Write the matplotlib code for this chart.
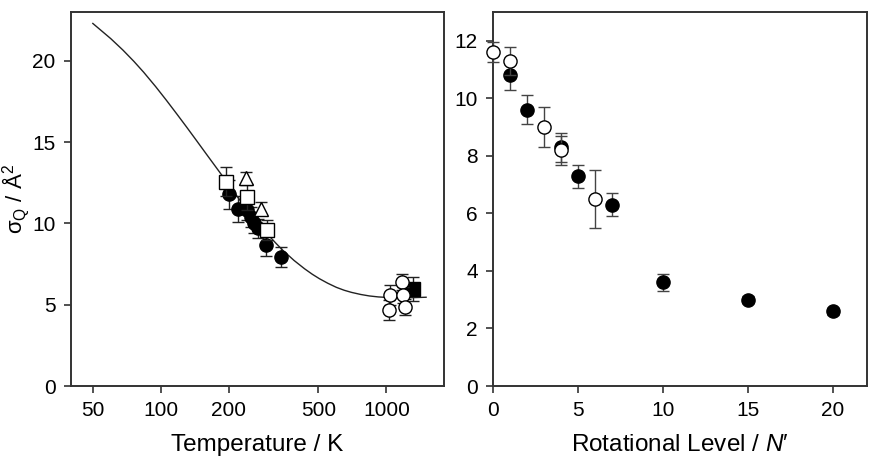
import matplotlib
matplotlib.use('Agg')
from matplotlib import pyplot as plt
from matplotlib.ticker import FixedLocator, NullLocator, FixedFormatter

plt.rcParams['font.family'] = ['Liberation Sans', 'DejaVu Sans']
plt.rcParams['mathtext.fontset'] = 'custom'
plt.rcParams['mathtext.rm'] = 'Liberation Sans'
plt.rcParams['mathtext.it'] = 'Liberation Sans:italic'

# left panel: fitted curve
fit_T = [50, 60, 68, 76, 84, 95, 106, 118, 130, 144, 159, 174, 189, 205, 220, 235,
         250, 275, 300, 325, 348, 390, 434, 470, 505, 550, 600, 650, 700, 770, 840,
         920, 1000, 1100, 1200, 1350, 1500]
fit_sigma = [22.3, 21.37, 20.66, 19.97, 19.30, 18.41, 17.57, 16.72, 15.94, 15.10,
             14.28, 13.54, 12.86, 12.17, 11.59, 11.06, 10.58, 9.88, 9.28, 8.76, 8.34,
             7.72, 7.21, 6.87, 6.60, 6.32, 6.07, 5.89, 5.76, 5.63, 5.54, 5.48, 5.45,
             5.43, 5.43, 5.44, 5.46]

# left panel: measurements
fc_T = [200, 220, 240, 252, 260, 270, 293, 342]
fc_sig = [11.8, 10.87, 10.83, 10.4, 10.0, 9.7, 8.68, 7.95]
fc_err = [0.9, 0.8, 0.6, 0.6, 0.6, 0.6, 0.7, 0.6]

sq_T = [195, 240, 296]
sq_sig = [12.57, 11.65, 9.6]
sq_err = [0.9, 0.8, 0.6]

tri_T = [238, 277]
tri_sig = [12.78, 10.9]
tri_err = [0.4, 0.4]

oc_T = [1031, 1041, 1169, 1181, 1213]
oc_sig = [4.68, 5.6, 6.42, 5.6, 4.88]
oc_err = [0.6, 0.6, 0.5, 0.5, 0.5]

fs_T = [1307]
fs_sig = [5.95]
fs_err = [0.75]

# right panel: rotational levels
rot_filled_N = [1, 2, 4, 5, 7, 10, 15, 20]
rot_filled_sig = [10.8, 9.6, 8.3, 7.3, 6.3, 3.6, 3.0, 2.6]
rot_filled_err = [0.5, 0.5, 0.5, 0.4, 0.4, 0.3, 0.12, 0.12]

rot_open_N = [0, 1, 3, 4, 6]
rot_open_sig = [11.6, 11.3, 9.0, 8.2, 6.5]
rot_open_err = [0.35, 0.5, 0.7, 0.5, 1.0]

T_ticks = [50, 100, 200, 500, 1000]

fig = plt.figure(figsize=(8.96, 4.68), dpi=100)
ax1 = fig.add_axes([0.0792, 0.1752, 0.4163, 0.799])
ax2 = fig.add_axes([0.5502, 0.1752, 0.4174, 0.799])

spine_col = '#333333'
ms = 9.5


def style(ax):
    for s in ax.spines.values():
        s.set_color(spine_col)
        s.set_linewidth(1.4)
    ax.tick_params(direction='out', length=5, width=1.2, color=spine_col,
                   labelsize=15, pad=6, top=False, right=False)


ax1.plot(fit_T, fit_sigma, color='#222222', lw=1.0, zorder=2)
ax1.errorbar(fc_T, fc_sig, yerr=fc_err, fmt='o', ms=ms, mfc='black', mec='black',
             ecolor='#222222', elinewidth=1, capsize=4, zorder=3)
ax1.errorbar(sq_T, sq_sig, yerr=sq_err, fmt='s', ms=ms, mfc='white', mec='black',
             mew=1, ecolor='#222222', elinewidth=1, capsize=4, zorder=4)
ax1.errorbar(tri_T, tri_sig, yerr=tri_err, fmt='^', ms=ms, mfc='white', mec='black',
             mew=1, ecolor='#222222', elinewidth=1, capsize=4, zorder=4)
ax1.errorbar(oc_T, oc_sig, yerr=oc_err, fmt='o', ms=ms, mfc='white', mec='black',
             mew=1, ecolor='#222222', elinewidth=1, capsize=4, zorder=4)
ax1.errorbar(fs_T, fs_sig, yerr=fs_err, fmt='s', ms=ms, mfc='black', mec='black',
             ecolor='#222222', elinewidth=1, capsize=4, zorder=3)

ax1.set_xscale('log')
ax1.set_xlim(40, 1800)
ax1.set_ylim(0, 23)
ax1.xaxis.set_major_locator(FixedLocator(T_ticks))
ax1.xaxis.set_major_formatter(FixedFormatter([str(t) for t in T_ticks]))
ax1.xaxis.set_minor_locator(NullLocator())
ax1.set_yticks([0, 5, 10, 15, 20])
ax1.set_xlabel('Temperature / K', fontsize=17.5, labelpad=10)
ax1.set_ylabel('σ$_\\mathrm{Q}$ / Å$^2$', fontsize=16, labelpad=1)
style(ax1)

ax2.errorbar(rot_filled_N, rot_filled_sig, yerr=rot_filled_err, fmt='o', ms=ms,
             mfc='black', mec='black', ecolor='#444444', elinewidth=1, capsize=4,
             zorder=3, clip_on=False)
ax2.errorbar(rot_open_N, rot_open_sig, yerr=rot_open_err, fmt='o', ms=ms,
             mfc='white', mec='black', mew=1, ecolor='#444444', elinewidth=1,
             capsize=4, zorder=4, clip_on=False)
ax2.set_xlim(0, 22)
ax2.set_ylim(0, 13)
ax2.set_xticks([0, 5, 10, 15, 20])
ax2.set_yticks([0, 2, 4, 6, 8, 10, 12])
ax2.set_xlabel("Rotational Level / $N$′", fontsize=17.5, labelpad=10)
style(ax2)

fig.savefig('out.png', dpi=100, facecolor='white')
